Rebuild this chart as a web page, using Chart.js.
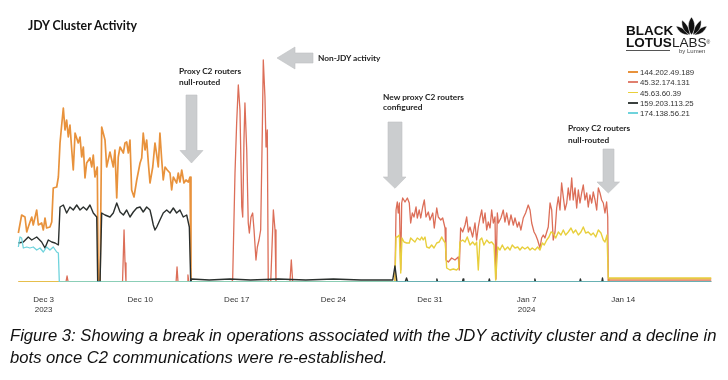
<!DOCTYPE html>
<html>
<head>
<meta charset="utf-8">
<script src="https://cdn.jsdelivr.net/npm/chart.js@4.4.1/dist/chart.umd.min.js"></script>
<style>
  html, body { margin:0; padding:0; background:#fff; }
  body { width:728px; height:380px; overflow:hidden; position:relative; font-family:"Liberation Sans", Arial, sans-serif; }
  #c { position:absolute; left:0; top:0; }
  .t { position:absolute; white-space:nowrap; color:#1a1a1a; }
  .ann { font-family:Lato, "Open Sans", sans-serif; font-weight:700; font-size:8.3px; color:#222; }
  .leg { position:absolute; left:628px; font-size:7.8px; line-height:10px; color:#333; white-space:nowrap; }
  .leg i { display:inline-block; width:10px; height:1.5px; vertical-align:middle; margin-right:2px; position:relative; top:-1px; }
  svg { position:absolute; left:0; top:0; }
</style>
</head>
<body>
<canvas id="c" width="728" height="330"></canvas>

<div class="t" style="left:28px;top:19px;font-family:Lato,sans-serif;font-weight:700;font-size:12.3px;line-height:14px;color:#111;">JDY Cluster Activity</div>

<!-- logo -->
<div class="t" style="left:626px;top:24px;font-weight:700;font-size:13.5px;line-height:13.5px;color:#111;">BLACK</div>
<div class="t" style="left:626px;top:36px;font-weight:700;font-size:13.5px;line-height:13.5px;color:#111;">LOTUS</div>
<div class="t" style="left:672px;top:36px;font-weight:400;font-size:13.5px;line-height:13.5px;color:#222;">LABS<span style="font-size:5px;vertical-align:top;">®</span></div>
<div style="position:absolute;left:626px;top:50px;width:44px;height:1px;background:#555;"></div>
<div class="t" style="left:679px;top:47.5px;font-size:6px;line-height:6px;color:#444;">by Lumen</div>

<!-- legend -->
<div class="leg" style="top:68px;"><i style="background:#e8923c"></i>144.202.49.189</div>
<div class="leg" style="top:78.3px;"><i style="background:#e0806f"></i>45.32.174.131</div>
<div class="leg" style="top:88.8px;"><i style="background:#e9cf3a"></i>45.63.60.39</div>
<div class="leg" style="top:99.3px;"><i style="background:#3a403e"></i>159.203.113.25</div>
<div class="leg" style="top:109.3px;"><i style="background:#6fd3dc"></i>174.138.56.21</div>

<!-- annotations -->
<div class="t ann" style="left:179px;top:66px;line-height:11px;">Proxy C2 routers<br>null-routed</div>
<div class="t ann" style="left:318px;top:52.5px;line-height:11px;">Non-JDY activity</div>
<div class="t ann" style="left:383px;top:92px;line-height:10px;">New proxy C2 routers<br>configured</div>
<div class="t ann" style="left:568px;top:123px;line-height:11.7px;">Proxy C2 routers<br>null-routed</div>

<div class="t" style="left:10px;top:325px;font-style:italic;font-size:16.65px;line-height:22px;color:#111;">Figure 3: Showing a break in operations associated with the JDY activity cluster and a decline in<br>bots once C2 communications were re-established.</div>

<script>
// ---- data: [day since Dec 1 2023, value] ----
const tickDays = [2, 9, 16, 23, 30, 37, 44];
const tickLabels = [["Dec 3", "2023"], "Dec 10", "Dec 17", "Dec 24", "Dec 31", ["Jan 7", "2024"], "Jan 14"];
const seriesNames = ["144.202.49.189", "45.32.174.131", "45.63.60.39", "159.203.113.25", "174.138.56.21"];

const orangePoints = [[0.17,49],[0.41,67],[0.65,65],[0.78,50],[0.89,55],[1.14,65],[1.25,57],[1.50,72],[1.62,57],[1.86,59],
[1.98,52],[2.10,64],[2.22,54],[2.46,55],[2.59,60],[2.70,94],[2.95,95],[3.07,105],[3.19,139],[3.31,157],
[3.43,174],[3.55,152],[3.67,162],[3.79,145],[3.91,157],[4.04,132],[4.15,112],[4.28,149],[4.51,139],[4.64,145],
[4.76,125],[4.88,135],[5.00,104],[5.12,119],[5.36,124],[5.49,115],[5.60,127],[5.72,105],[5.89,115],[5.96,0],
[6.09,0],[6.21,155],[6.45,142],[6.57,115],[6.81,130],[7.05,115],[7.17,132],[7.30,84],[7.41,125],[7.54,135],
[7.78,129],[7.90,139],[8.02,140],[8.14,129],[8.26,142],[8.38,92],[8.55,85],[8.75,102],[8.99,119],[9.11,124],
[9.22,149],[9.35,132],[9.47,142],[9.59,119],[9.71,99],[9.91,115],[10.07,139],[10.20,127],[10.31,115],[10.43,149],
[10.56,122],[10.67,102],[10.80,115],[10.96,112],[11.16,109],[11.28,92],[11.40,105],[11.64,99],[11.76,109],[11.88,100],
[12.01,112],[12.17,99],[12.32,102],[12.49,100],[12.61,105],[12.68,0],[42.90,0],[42.95,3],[50.40,3]];

const redPoints = [[0.17,0],[3.62,0],[3.70,6],[3.78,0],[7.72,0],[7.83,52],[7.90,19],[7.97,0],[11.60,0],[11.67,15],[11.74,0],
[12.40,0],[12.46,7],[12.52,0],[15.62,0],[15.70,2],[15.87,109],[15.99,159],[16.11,197],[16.23,172],[16.36,75],[16.43,65],
[16.52,142],[16.59,179],[16.72,132],[16.83,59],[16.91,49],[17.03,65],[17.15,69],[17.25,52],[17.39,22],[17.49,35],
[17.61,42],[17.73,52],[17.85,152],[17.92,222],[18.04,185],[18.12,135],[18.21,152],[18.28,0],[18.46,0],[18.65,72],
[18.77,52],[18.84,0],[19.85,0],[19.95,22],[20.05,0],[27.40,0],[27.46,2],[27.54,72],[27.63,80],[27.70,69],[27.78,79],
[27.88,12],[27.95,79],[28.02,84],[28.19,80],[28.36,84],[28.50,79],[28.60,59],[28.72,69],[28.84,65],[28.99,75],
[29.08,64],[29.22,72],[29.33,64],[29.47,75],[29.59,82],[29.71,65],[29.88,70],[30.00,62],[30.20,69],[30.31,54],
[30.49,74],[30.60,65],[30.78,62],[30.92,64],[31.09,54],[31.16,22],[31.33,20],[31.57,24],[31.81,22],[32.05,25],
[32.12,12],[32.22,54],[32.37,50],[32.54,57],[32.66,65],[32.78,50],[32.90,55],[33.09,45],[33.26,59],[33.38,42],
[33.50,55],[33.62,64],[33.75,72],[33.86,59],[33.99,69],[34.11,52],[34.22,60],[34.35,54],[34.47,72],[34.59,59],
[34.71,65],[34.78,3],[34.88,69],[34.96,59],[35.14,64],[35.31,72],[35.43,60],[35.56,69],[35.72,57],[35.87,67],
[36.04,57],[36.16,64],[36.33,55],[36.45,60],[36.59,52],[36.76,64],[36.93,69],[37.12,77],[37.25,72],[37.37,59],
[37.54,50],[37.66,47],[37.80,42],[37.97,34],[38.09,44],[38.21,47],[38.33,44],[38.46,50],[38.57,55],[38.70,79],
[38.82,72],[38.93,42],[39.06,50],[39.18,74],[39.30,85],[39.42,72],[39.54,99],[39.66,85],[39.78,72],[39.91,79],
[40.02,94],[40.14,82],[40.27,104],[40.38,82],[40.51,94],[40.63,74],[40.75,92],[40.87,79],[40.99,89],[41.11,97],
[41.23,82],[41.36,89],[41.47,75],[41.59,87],[41.72,79],[41.83,90],[41.96,82],[42.08,72],[42.20,94],[42.32,89],
[42.44,82],[42.56,79],[42.68,69],[42.80,80],[42.88,65],[42.92,1],[50.40,1]];

const yellowPoints = [[0.17,0],[27.40,0],[27.46,2],[27.54,45],[27.63,45],[27.78,47],[27.88,9],[27.97,44],[28.12,40],[28.31,39],
[28.50,39],[28.60,44],[28.75,42],[28.91,40],[29.08,44],[29.28,42],[29.40,45],[29.51,42],[29.64,45],[29.76,35],
[29.95,34],[30.12,37],[30.29,34],[30.49,39],[30.67,40],[30.85,45],[30.96,42],[31.11,39],[31.21,14],[31.45,12],
[31.69,13],[31.93,12],[32.08,14],[32.17,40],[32.37,42],[32.54,40],[32.70,45],[32.90,37],[33.09,40],[33.26,37],
[33.38,40],[33.50,12],[33.62,42],[33.75,44],[33.91,37],[34.11,42],[34.30,39],[34.47,40],[34.64,37],[34.76,2],
[34.91,35],[35.07,32],[35.24,37],[35.43,32],[35.63,35],[35.80,32],[35.96,37],[36.16,34],[36.36,35],[36.52,32],
[36.69,35],[36.88,33],[37.08,35],[37.25,32],[37.41,34],[37.61,32],[37.80,35],[37.97,32],[38.14,39],[38.28,37],
[38.46,42],[38.62,45],[38.77,50],[38.93,49],[39.11,44],[39.30,50],[39.49,47],[39.66,52],[39.83,47],[40.02,50],
[40.22,54],[40.38,49],[40.56,52],[40.75,47],[40.94,50],[41.11,55],[41.28,49],[41.47,50],[41.67,47],[41.83,49],
[42.01,45],[42.20,52],[42.39,49],[42.56,42],[42.68,40],[42.83,47],[42.92,4],[50.40,4]];

const blackPoints = [[0.17,39],[0.53,40],[0.89,45],[1.14,42],[1.50,45],[1.86,40],[2.10,34],[2.34,42],[2.59,40],[2.83,39],
[3.07,37],[3.19,75],[3.43,77],[3.67,69],[3.91,75],[4.15,72],[4.40,77],[4.64,72],[4.88,75],[5.12,72],
[5.36,77],[5.60,69],[5.85,65],[5.92,0],[6.09,0],[6.21,69],[6.45,67],[6.81,65],[7.05,69],[7.30,79],
[7.54,70],[7.78,67],[8.02,72],[8.26,65],[8.50,70],[8.75,74],[8.99,75],[9.22,70],[9.47,75],[9.71,72],
[9.83,65],[9.95,57],[10.07,52],[10.20,55],[10.43,62],[10.67,69],[10.92,72],[11.16,69],[11.40,74],[11.64,69],
[11.88,72],[12.12,65],[12.37,67],[12.56,55],[12.66,0],[12.72,3],[14.00,2],[15.50,3],[17.00,2],[19.00,3],
[21.00,2],[23.00,3],[25.00,2],[27.30,2],[27.46,16],[27.61,0],[28.20,0],[28.30,4],[28.40,0],[30.45,0],
[30.50,3],[30.55,0],[32.35,0],[32.40,3],[32.45,0],[34.25,0],[34.30,3],[34.35,0],[37.55,0],[37.60,3],
[37.65,0],[40.85,0],[40.90,3],[40.95,0],[42.45,0],[42.50,4],[42.55,0],[50.40,0]];

const cyanPoints = [[0.17,35],[0.29,45],[0.41,44],[0.53,34],[0.78,35],[1.01,34],[1.25,35],[1.50,32],[1.74,34],[1.98,30],
[2.22,35],[2.46,32],[2.70,35],[2.95,30],[3.07,29],[3.14,0],[50.40,0]];

const colors = ["#e8923c", "#dc6e58", "#e8cf3c", "#2b302e", "#6fd3dc"];
const widths = [1.7, 1.3, 1.4, 1.4, 1.3];
const drawOrder = [3, 4, 2, 1, 0]; // lower = drawn on top
const allPoints = [orangePoints, redPoints, yellowPoints, blackPoints, cyanPoints];

const datasets = allPoints.map((pts, k) => ({
  label: seriesNames[k],
  data: pts.map(p => ({ x: p[0], y: p[1] })),
  borderColor: colors[k],
  borderWidth: widths[k],
  order: drawOrder[k],
  pointRadius: 0,
  tension: 0,
  fill: false,
  borderJoinStyle: 'round'
}));

new Chart(document.getElementById('c'), {
  type: 'line',
  data: { datasets },
  options: {
    responsive: false,
    animation: false,
    devicePixelRatio: 1,
    layout: { padding: { left: 16, right: 16.5, top: 40, bottom: 0 } },
    plugins: { legend: { display: false }, tooltip: { enabled: false } },
    scales: {
      x: {
        type: 'linear',
        min: 0,
        max: 50.4,
        grid: { display: false, drawTicks: false },
        border: { display: false },
        afterBuildTicks: (scale) => { scale.ticks = tickDays.map(v => ({ value: v })); },
        afterFit: (scale) => { scale.height = 48; },
        ticks: {
          autoSkip: false,
          maxRotation: 0,
          padding: 13,
          color: '#333',
          font: { family: 'Liberation Sans', size: 8, lineHeight: 1.25 },
          callback: (value) => {
            const i = tickDays.indexOf(value);
            return i >= 0 ? tickLabels[i] : '';
          }
        }
      },
      y: { display: false, min: 0, max: 242 }
    }
  }
});
</script>

<svg width="728" height="380" viewBox="0 0 728 380">
  <g fill="#cbcdcf" stroke="#bfc1c3" stroke-width="0.6">
    <polygon points="186,95 197,95 197,150.5 203,150.5 191.5,163 180,150.5 186,150.5"/>
    <polygon points="313,53 313,63 295,63 295,69 277,58 295,47 295,53"/>
    <polygon points="388,122 402,122 402,177 406,177 395,188.3 383.3,177 388,177"/>
    <polygon points="603,149 614,149 614,182 619.5,182 608.3,193 597,182 603,182"/>
  </g>
  <g fill="#111" stroke="#fff" stroke-width="0.5">
    <path d="M689,35 C682,35 678,31 676,26 C682,27 686,30 689,35 Z"/>
    <path d="M694,35 C701,35 705,31 707,26 C701,27 697,30 694,35 Z"/>
    <path d="M690,35 C684,32 681,27 682,20 C687,24 690,29 690,35 Z"/>
    <path d="M693,35 C699,32 702,27 701,20 C696,24 693,29 693,35 Z"/>
    <path d="M691.5,35 C687,29 687.5,22 691.5,17 C695.5,22 696,29 691.5,35 Z"/>
  </g>
</svg>
</body>
</html>
